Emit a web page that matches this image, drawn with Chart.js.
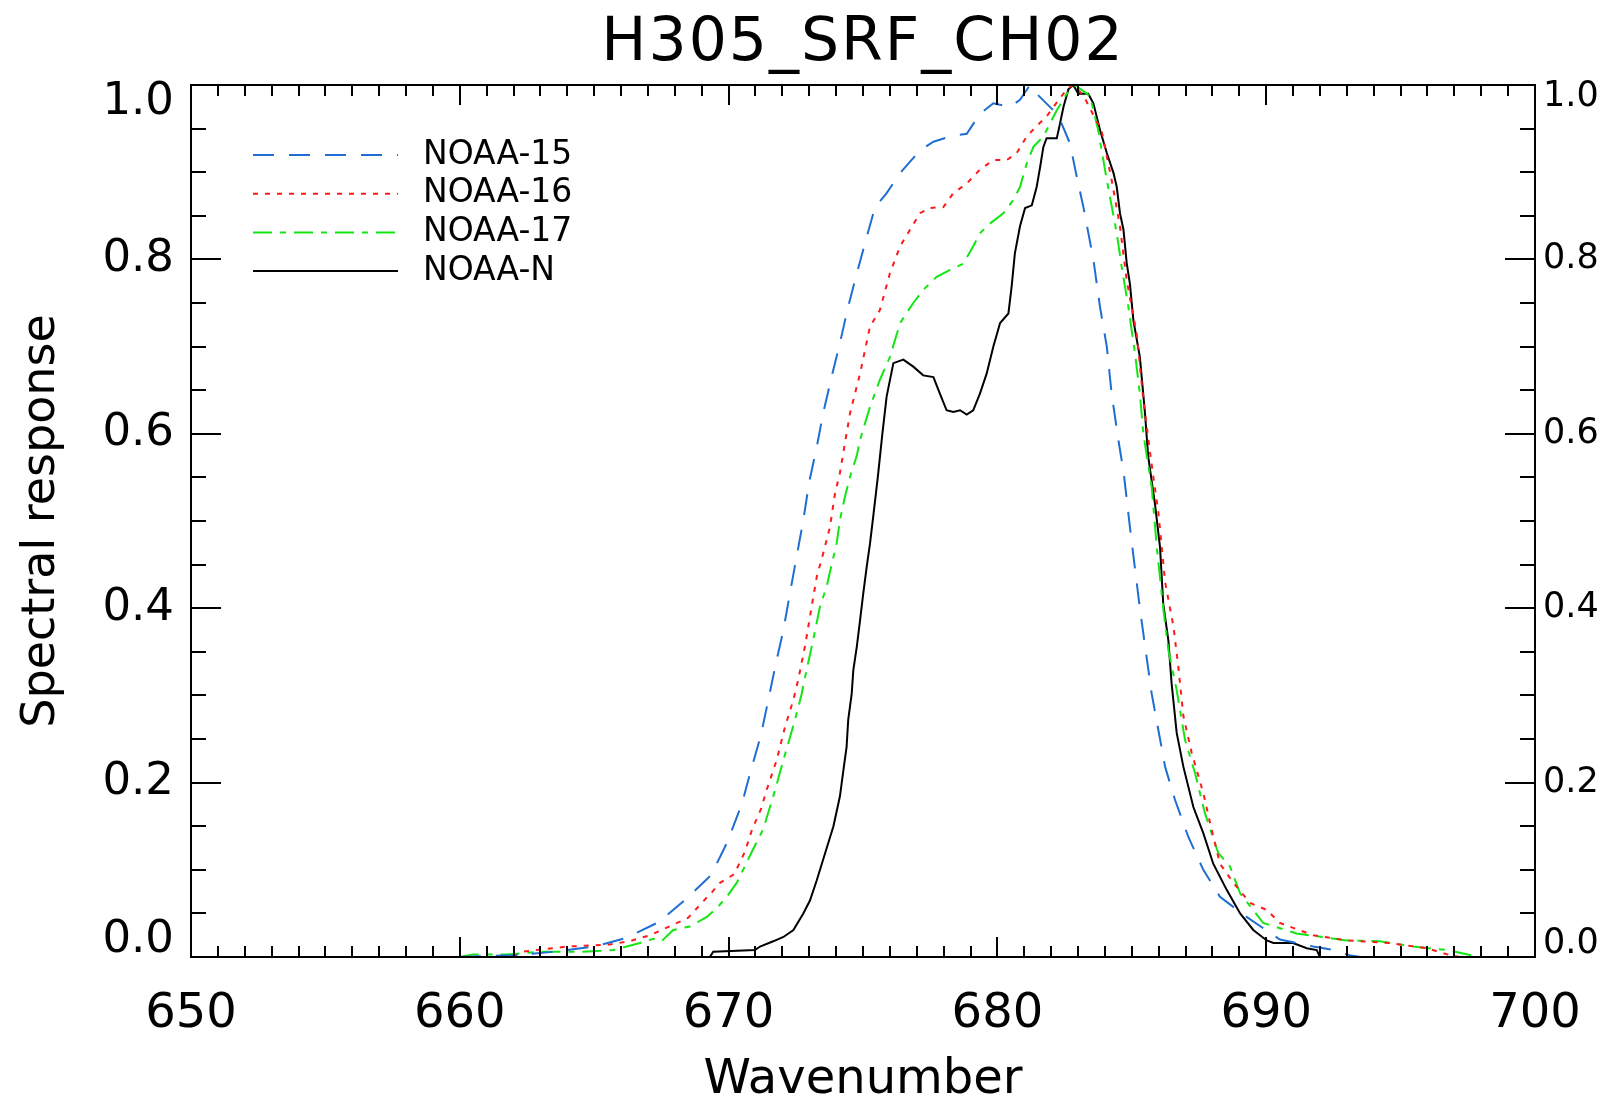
<!DOCTYPE html>
<html>
<head>
<meta charset="utf-8">
<title>H305_SRF_CH02</title>
<script src="https://cdn.jsdelivr.net/npm/chart.js@4.4.1/dist/chart.umd.min.js"></script>
<style>
  html, body { margin: 0; padding: 0; background: #fff; }
  canvas { display: block; }
</style>
</head>
<body>
<canvas id="srf" width="1608" height="1099"></canvas>
<script>
// ── Data ──────────────────────────────────────────────────────

const chartTitle  = 'H305_SRF_CH02';
const seriesNames = ['NOAA-15', 'NOAA-16', 'NOAA-17', 'NOAA-N'];

const n15Wave = [660, 662, 663.5, 665.0, 666.2, 667.4, 668.4, 669.35, 669.94, 670.5, 670.8, 671.19, 671.48,
  671.76, 672.04, 672.28, 672.53, 672.78, 673.0, 673.28, 673.52, 673.83, 674.14, 674.45, 674.77, 675.14,
  675.45, 675.88, 676.38, 677.12, 677.62, 678.36, 678.86, 679.35, 679.85, 680.47, 680.84, 681.21, 681.46,
  682.08, 682.33, 682.7, 682.95, 683.2, 683.57, 683.82, 684.07, 684.25, 684.5, 684.7, 684.93, 685.1,
  685.3, 685.55, 685.74, 685.99, 686.24, 686.61, 687.1, 687.66, 688.28, 689.27, 690.51, 691.75, 692.5,
  693.1, 693.5];
const n15Resp = [0, 0.002, 0.006, 0.012, 0.022, 0.04, 0.066, 0.094, 0.131, 0.176, 0.211, 0.253, 0.295,
  0.337, 0.375, 0.417, 0.459, 0.501, 0.545, 0.585, 0.624, 0.665, 0.704, 0.746, 0.784, 0.826,
  0.86, 0.876, 0.899, 0.925, 0.935, 0.942, 0.944, 0.967, 0.979, 0.975, 0.983, 1.0, 0.99,
  0.971, 0.96, 0.933, 0.895, 0.86, 0.8, 0.745, 0.7, 0.646, 0.593, 0.555, 0.493, 0.45,
  0.4, 0.344, 0.302, 0.26, 0.218, 0.18, 0.138, 0.1, 0.069, 0.046, 0.02, 0.012, 0.008,
  0.002, 0];

const n16Wave = [662.0, 662.3, 664.0, 665.5, 666.3, 667.08, 667.94, 668.5, 668.94, 669.4, 669.68, 670.21,
  670.61, 670.87, 671.21, 671.4, 671.79, 672.1, 672.41, 672.59, 672.84, 673.09, 673.28, 673.52, 673.77,
  673.96, 674.14, 674.52, 674.89, 675.26, 675.63, 676.0, 676.38, 676.75, 677.12, 677.49, 677.99, 678.36,
  678.86, 679.35, 679.85, 680.35, 680.72, 681.09, 681.46, 681.83, 682.21, 682.58, 682.82, 683.2, 683.88,
  684.25, 684.56, 684.81, 685.18, 685.43, 685.68, 685.99, 686.24, 686.55, 686.73, 686.92, 687.23, 687.66,
  687.97, 688.28, 688.78, 689.4, 690.02, 690.51, 691.75, 693.0, 694.6, 695.97, 696.96, 697.2];
const n16Resp = [0, 0.006, 0.012, 0.014, 0.018, 0.025, 0.037, 0.045, 0.06, 0.075, 0.085, 0.095,
  0.121, 0.146, 0.17, 0.19, 0.226, 0.264, 0.295, 0.318, 0.356, 0.402, 0.436, 0.463, 0.493,
  0.532, 0.555, 0.624, 0.669, 0.723, 0.742, 0.784, 0.815, 0.834, 0.853, 0.859, 0.86, 0.876,
  0.887, 0.903, 0.914, 0.914, 0.922, 0.941, 0.953, 0.964, 0.98, 0.995, 1.0, 0.988, 0.947,
  0.891, 0.838, 0.776, 0.715, 0.639, 0.578, 0.509, 0.43, 0.379, 0.333, 0.276, 0.234, 0.188,
  0.146, 0.107, 0.085, 0.062, 0.054, 0.039, 0.025, 0.019, 0.016, 0.01, 0.001, 0];

const n17Wave = [660, 660.5, 661.75, 662.98, 664.47, 665.71, 666.7, 667.2, 667.5, 667.94, 668.56, 669.19,
  669.56, 669.93, 670.3, 670.48, 670.87, 671.28, 671.66, 672.04, 672.47, 672.72, 672.9, 673.15, 673.4,
  673.65, 673.84, 674.02, 674.14, 674.33, 674.52, 674.77, 674.89, 675.26, 675.63, 676.0, 676.38, 676.87,
  677.24, 677.74, 678.24, 678.73, 679.1, 679.35, 679.72, 680.22, 680.59, 680.84, 681.09, 681.34, 681.71,
  681.96, 682.21, 682.58, 682.89, 683.45, 683.75, 684.07, 684.44, 684.62, 684.87, 685.12, 685.3, 685.43,
  685.74, 685.93, 686.17, 686.36, 686.67, 686.98, 687.35, 687.72, 688.22, 688.65, 689.03, 689.89, 690.51,
  691.13, 692.99, 694.23, 695.47, 696.71, 697.77, 698.0];
const n17Resp = [0, 0.003, 0.003, 0.006, 0.006, 0.008, 0.016, 0.021, 0.018, 0.031, 0.035, 0.046,
  0.056, 0.069, 0.085, 0.096, 0.121, 0.146, 0.184, 0.226, 0.272, 0.302, 0.329, 0.364, 0.402,
  0.425, 0.451, 0.474, 0.501, 0.528, 0.551, 0.575, 0.593, 0.631, 0.662, 0.688, 0.727, 0.75,
  0.765, 0.78, 0.788, 0.795, 0.815, 0.83, 0.841, 0.853, 0.868, 0.883, 0.91, 0.929, 0.941,
  0.956, 0.971, 0.99, 1.0, 0.987, 0.948, 0.891, 0.83, 0.792, 0.746, 0.692, 0.646, 0.6,
  0.539, 0.47, 0.4, 0.352, 0.306, 0.249, 0.211, 0.165, 0.119, 0.104, 0.073, 0.039, 0.033,
  0.027, 0.019, 0.018, 0.012, 0.008, 0.001, 0];

const nnWave = [669.3, 669.43, 670.98, 671.17, 671.66, 672.04, 672.41, 672.78, 673.03, 673.28, 673.4, 673.9,
  674.14, 674.27, 674.39, 674.45, 674.58, 674.64, 674.77, 674.89, 675.01, 675.14, 675.26, 675.38, 675.55,
  675.72, 675.88, 676.13, 676.5, 676.87, 677.24, 677.62, 677.86, 678.11, 678.36, 678.61, 678.86, 679.1,
  679.35, 679.6, 679.85, 680.1, 680.41, 680.53, 680.65, 680.84, 681.03, 681.28, 681.46, 681.59, 681.71,
  681.83, 682.21, 682.33, 682.46, 682.64, 682.82, 683.01, 683.38, 683.57, 683.82, 684.07, 684.32, 684.44,
  684.56, 684.69, 684.81, 684.93, 685.06, 685.3, 685.49, 685.61, 685.86, 686.05, 686.17, 686.36, 686.48,
  686.67, 686.92, 687.29, 687.66, 688.03, 688.53, 689.03, 689.52, 690.02, 690.27, 691.0, 691.51, 691.88,
  692.0];
const nnResp = [0, 0.006, 0.008, 0.012, 0.018, 0.023, 0.031, 0.05, 0.065, 0.088, 0.1, 0.15,
  0.184, 0.214, 0.241, 0.272, 0.302, 0.329, 0.356, 0.386, 0.417, 0.448, 0.474, 0.505, 0.55,
  0.6, 0.643, 0.681, 0.685, 0.677, 0.667, 0.665, 0.646, 0.627, 0.625, 0.627, 0.622, 0.627,
  0.646, 0.669, 0.7, 0.727, 0.738, 0.769, 0.807, 0.838, 0.859, 0.862, 0.883, 0.906, 0.929,
  0.939, 0.939, 0.956, 0.975, 0.995, 1.0, 0.99, 0.99, 0.979, 0.948, 0.922, 0.899, 0.883,
  0.853, 0.834, 0.796, 0.772, 0.73, 0.688, 0.624, 0.574, 0.52, 0.47, 0.405, 0.363, 0.314,
  0.257, 0.218, 0.172, 0.142, 0.107, 0.077, 0.05, 0.031, 0.019, 0.016, 0.016, 0.01, 0.008,
  0];

const yMajorTicks = [0, 0.2, 0.4, 0.6, 0.8, 1.0];

// ── Helpers ───────────────────────────────────────────────────

const FONT = "'DejaVu Sans', 'Liberation Sans', sans-serif";

function _pts(wave, resp) {
  return wave.map((w, i) => ({ x: w, y: resp[i] }));
}

function _isMajor(v, step) {
  return Math.abs(v / step - Math.round(v / step)) < 1e-6;
}

// Title over the plot box, box with inward ticks on all four sides,
// y labels on both sides, legend in the upper left
const idlFrame = {
  id: 'idlFrame',
  afterDatasetsDraw(chart) {
    const { ctx, chartArea: a, scales: { x, y } } = chart;
    ctx.save();

    ctx.fillStyle = '#000';
    ctx.font = '60px ' + FONT;
    ctx.textAlign = 'center';
    ctx.textBaseline = 'alphabetic';
    ctx.letterSpacing = '2px';
    ctx.fillText(chartTitle, (a.left + a.right) / 2, 60);
    ctx.letterSpacing = '0px';

    ctx.strokeStyle = '#000';
    ctx.lineWidth = 2;
    ctx.setLineDash([]);
    ctx.strokeRect(a.left, a.top, a.right - a.left, a.bottom - a.top);

    ctx.beginPath();
    x.ticks.forEach(t => {
      const px = Math.round(x.getPixelForValue(t.value));
      const len = _isMajor(t.value, 10) ? 20 : 11;
      ctx.moveTo(px, a.bottom); ctx.lineTo(px, a.bottom - len);
      ctx.moveTo(px, a.top);    ctx.lineTo(px, a.top + len);
    });
    y.ticks.forEach(t => {
      const py = Math.round(y.getPixelForValue(t.value));
      const len = _isMajor(t.value, 0.2) ? 30 : 15;
      ctx.moveTo(a.left, py);  ctx.lineTo(a.left + len, py);
      ctx.moveTo(a.right, py); ctx.lineTo(a.right - len, py);
    });
    ctx.stroke();

    // y tick labels, kept inside the box height like the original
    ctx.textBaseline = 'middle';
    yMajorTicks.forEach(v => {
      const py = y.getPixelForValue(v);
      ctx.font = '45px ' + FONT;
      ctx.textAlign = 'right';
      ctx.fillText(v.toFixed(1), a.left - 17, Math.min(Math.max(py, a.top + 17), a.bottom - 17));
      ctx.font = '35px ' + FONT;
      ctx.textAlign = 'left';
      ctx.fillText(v.toFixed(1), a.right + 8, Math.min(Math.max(py, a.top + 12), a.bottom - 13));
    });

    // legend
    ctx.font = '33px ' + FONT;
    ctx.textAlign = 'left';
    chart.data.datasets.forEach((ds, i) => {
      const ly = a.top + 70 + i * 38.7;
      ctx.beginPath();
      ctx.strokeStyle = ds.borderColor;
      ctx.lineWidth = 2;
      ctx.setLineDash(ds.borderDash || []);
      ctx.moveTo(a.left + 62, ly);
      ctx.lineTo(a.left + 207, ly);
      ctx.stroke();
      ctx.fillText(ds.label, a.left + 232, ly);
    });
    ctx.restore();
  }
};

// ── Chart ─────────────────────────────────────────────────────

Chart.defaults.font.family = FONT;
Chart.defaults.color = '#000';

new Chart(document.getElementById('srf'), {
  type: 'line',
  data: {
    datasets: [
      { label: seriesNames[0], data: _pts(n15Wave, n15Resp), borderColor: '#1f6ed4', borderDash: [21, 15] },
      { label: seriesNames[1], data: _pts(n16Wave, n16Resp), borderColor: '#ff1a1a', borderDash: [5, 7] },
      { label: seriesNames[2], data: _pts(n17Wave, n17Resp), borderColor: '#14e614', borderDash: [19, 8, 6, 8] },
      { label: seriesNames[3], data: _pts(nnWave, nnResp),   borderColor: '#000000' }
    ].map(d => Object.assign(d, { borderWidth: 2, pointRadius: 0, tension: 0, fill: false }))
  },
  options: {
    responsive: false,
    animation: false,
    devicePixelRatio: 1,
    layout: { padding: { top: 85, left: 0, right: 73, bottom: 0 } },
    plugins: {
      legend:  { display: false },
      tooltip: { enabled: false },
      title:   { display: false }
    },
    scales: {
      x: {
        type: 'linear', min: 650, max: 700,
        grid: { display: false, drawTicks: false },
        border: { display: false },
        ticks: {
          stepSize: 1, autoSkip: false, maxRotation: 0, minRotation: 0, padding: 29,
          font: { size: 48 },
          callback: v => _isMajor(v, 10) ? String(Math.round(v)) : ''
        },
        title: { display: true, text: 'Wavenumber', font: { size: 48, lineHeight: 0.75 }, padding: { top: 0, bottom: 0 } },
        afterFit(s) { s.height = 142; s.paddingLeft = 0; s.paddingRight = 0; }
      },
      y: {
        min: 0, max: 1,
        grid: { display: false, drawTicks: false },
        border: { display: false },
        ticks: { stepSize: 0.05, display: false },
        title: { display: true, text: 'Spectral response', font: { size: 46, lineHeight: 1.2 }, padding: { top: 14, bottom: 0 } },
        afterFit(s) { s.width = 191; s.paddingTop = 0; s.paddingBottom = 0; }
      }
    }
  },
  plugins: [idlFrame]
});
</script>
</body>
</html>
